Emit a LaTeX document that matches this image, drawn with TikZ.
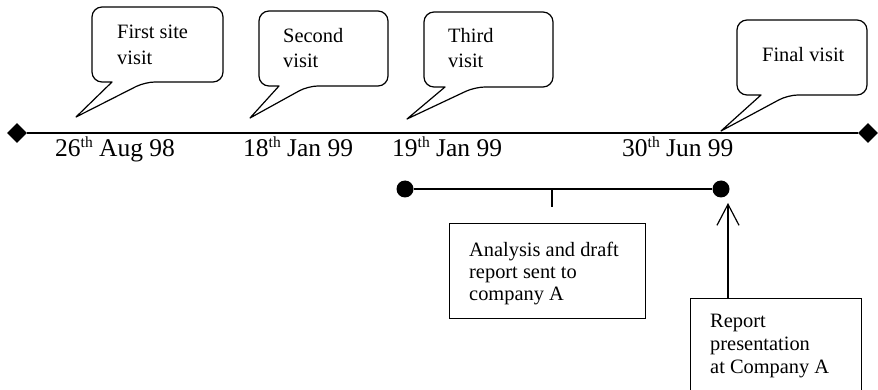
\documentclass[tikz,border=0pt]{standalone}
\usepackage{fontspec}
\setmainfont{Liberation Serif}
\usetikzlibrary{shapes.geometric,arrows.meta}

% raised ordinal suffix for the dates
\newcommand{\ord}[1]{\raisebox{9.5pt}{\fontsize{15.5}{15.5}\selectfont #1}}

% text nodes are placed by the baseline of their last line
\tikzset{
  bubble/.style={draw, line width=1.2pt, rounded corners=10pt, line join=round},
  boxtext/.style={anchor=base west, inner sep=0pt, align=left, font=\fontsize{20.4}{26}\selectfont},
  datetext/.style={anchor=base west, inner sep=0pt, font=\fontsize{25.5}{30}\selectfont},
  endmark/.style={diamond, fill=black, inner sep=0pt, minimum width=20pt, minimum height=20pt},
  dot/.style={circle, fill=black, inner sep=0pt, minimum size=17pt},
  frame/.style={draw, line width=1.2pt, inner sep=0pt, anchor=north west},
}

\begin{document}
\begin{tikzpicture}[x=1pt, y=-1pt]
  \useasboundingbox (0,0) rectangle (878,390);
  \clip (0,0) rectangle (878,390);

  % main time line
  \node[endmark] (start) at (17,133) {};
  \node[endmark] (end) at (868,133) {};
  \draw[line width=1.7pt] (start) -- (end);

  % dates
  \node[datetext] (d1) at (55,157) {26\ord{th} Aug 98};
  \node[datetext] (d2) at (243,157) {18\ord{th} Jan 99};
  \node[datetext] (d3) at (392,157) {19\ord{th} Jan 99};
  \node[datetext] (d4) at (622,157) {30\ord{th} Jun 99};

  % speech bubbles for the visits
  \draw[bubble] (112,82) -- (92,82) -- (92,7) -- (223,7) -- (223,82) -- (145,82)
    [sharp corners] -- (76,117) -- cycle;
  \node[boxtext] (v1) at (117,65) {First site\\visit};

  \draw[bubble] (279,86) -- (259,86) -- (259,11) -- (388,11) -- (388,86) -- (308,86)
    [sharp corners] -- (250,118) -- cycle;
  \node[boxtext, font=\fontsize{20.4}{25}\selectfont] (v2) at (283,68) {Second\\visit};

  \draw[bubble] (445,87) -- (424,87) -- (424,12) -- (553,12) -- (553,87) -- (475,87)
    [sharp corners] -- (407,119) -- cycle;
  \node[boxtext, font=\fontsize{20.4}{25}\selectfont] (v3) at (448,68) {Third\\visit};

  \draw[bubble] (761,95) -- (737,95) -- (737,20) -- (867,20) -- (867,95) -- (788,95)
    [sharp corners] -- (721,131) -- cycle;
  \node[boxtext] (v4) at (762,62) {Final visit};

  % analysis period
  \node[dot] (p1) at (405,189) {};
  \node[dot] (p2) at (721,189) {};
  \draw[line width=1.3pt] (p1) -- (p2);
  \coordinate (tickTop) at (552,189);
  \coordinate (tickEnd) at (552,207);
  \draw[line width=1.3pt] (tickTop) -- (tickEnd);

  \node[frame, minimum width=196pt, minimum height=95pt] (analysis) at (449,223) {};
  \node[boxtext, font=\fontsize{20.4}{22}\selectfont] (analysisText) at (469,300)
    {Analysis and draft\\report sent to\\company A};

  % final report
  \node[frame, minimum width=171pt, minimum height=120pt] (report) at (690,298) {};
  \node[boxtext, font=\fontsize{20.4}{23}\selectfont] (reportText) at (710,373)
    {Report\\presentation\\at Company A};
  \coordinate (arrowTip) at (728,203);
  \draw[line width=1.2pt, -{Straight Barb[length=21pt, width=22pt]}]
    (report.north -| arrowTip) -- (arrowTip);
\end{tikzpicture}
\end{document}
